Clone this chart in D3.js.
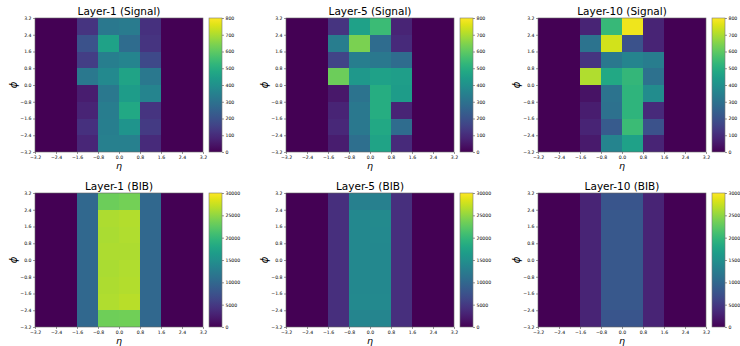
<!DOCTYPE html>
<html>
<head>
<meta charset="utf-8">
<script src="https://cdn.jsdelivr.net/npm/d3@7"></script>
<style>
  body { margin: 0; background: #fff; }
  text { font-family: "DejaVu Sans", sans-serif; fill: #000; }
  .tick text { font-size: 4.6px; }
</style>
</head>
<body>
<div id="chart"></div>
<script>
// bin edges (eta on x, phi on y)
var etaEdges = [-3.2, -2.4, -1.6, -0.8, 0.0, 0.8, 1.6, 2.4, 3.2];
var phiEdges = [-3.2, -2.4, -1.6, -0.8, 0.0, 0.8, 1.6, 2.4, 3.2];
var axisTicks = [-3.2, -2.4, -1.6, -0.8, 0.0, 0.8, 1.6, 2.4, 3.2];
var signalTicks = [0, 100, 200, 300, 400, 500, 600, 700, 800];
var bibTicks = [0, 5000, 10000, 15000, 20000, 25000, 30000];

// hit counts, rows listed from top (phi 2.4..3.2) down to bottom (phi -3.2..-2.4)
var sigL1 = [
  [0, 0, 120, 320, 330, 110, 0, 0],
  [0, 0, 200, 460, 280, 120, 0, 0],
  [0, 0, 145, 340, 360, 175, 0, 0],
  [0, 0, 320, 375, 465, 320, 0, 0],
  [0, 0, 65, 320, 440, 360, 0, 0],
  [0, 0, 80, 335, 480, 120, 0, 0],
  [0, 0, 110, 340, 415, 135, 0, 0],
  [0, 0, 85, 345, 345, 95, 0, 0]
];
var sigL5 = [
  [0, 0, 120, 455, 545, 80, 0, 0],
  [0, 0, 335, 640, 280, 95, 0, 0],
  [0, 0, 160, 340, 320, 280, 0, 0],
  [0, 0, 620, 425, 455, 445, 0, 0],
  [0, 0, 50, 305, 495, 440, 0, 0],
  [0, 0, 80, 320, 495, 80, 0, 0],
  [0, 0, 90, 320, 480, 280, 0, 0],
  [0, 0, 65, 290, 465, 95, 0, 0]
];
var sigL10 = [
  [0, 0, 80, 535, 780, 80, 0, 0],
  [0, 0, 305, 745, 200, 80, 0, 0],
  [0, 0, 120, 320, 360, 335, 0, 0],
  [0, 0, 705, 480, 530, 295, 0, 0],
  [0, 0, 40, 305, 520, 385, 0, 0],
  [0, 0, 65, 295, 520, 95, 0, 0],
  [0, 0, 80, 225, 545, 200, 0, 0],
  [0, 0, 55, 360, 455, 80, 0, 0]
];
var bibL1 = [
  [0, 0, 10000, 23300, 23600, 10000, 0, 0],
  [0, 0, 10000, 26300, 26500, 10000, 0, 0],
  [0, 0, 10000, 26200, 26400, 10000, 0, 0],
  [0, 0, 10000, 26300, 26300, 10000, 0, 0],
  [0, 0, 10000, 26200, 26400, 10000, 0, 0],
  [0, 0, 10000, 26300, 26500, 10000, 0, 0],
  [0, 0, 10000, 26400, 26800, 10000, 0, 0],
  [0, 0, 10000, 23400, 23500, 10000, 0, 0]
];
var bibL5 = [
  [0, 0, 4000, 13000, 13000, 4000, 0, 0],
  [0, 0, 4100, 14000, 14200, 4100, 0, 0],
  [0, 0, 4100, 14000, 14100, 4100, 0, 0],
  [0, 0, 4100, 14000, 14000, 4100, 0, 0],
  [0, 0, 4100, 14000, 14000, 4100, 0, 0],
  [0, 0, 4100, 14000, 14000, 4100, 0, 0],
  [0, 0, 4100, 14100, 14100, 4100, 0, 0],
  [0, 0, 4000, 13600, 13600, 4000, 0, 0]
];
var bibL10 = [
  [0, 0, 3000, 7900, 7900, 3000, 0, 0],
  [0, 0, 3000, 8100, 8200, 3000, 0, 0],
  [0, 0, 3000, 8100, 8100, 3000, 0, 0],
  [0, 0, 3000, 8100, 8100, 3000, 0, 0],
  [0, 0, 3000, 8100, 8100, 3000, 0, 0],
  [0, 0, 3000, 8100, 8100, 3000, 0, 0],
  [0, 0, 3000, 8100, 8200, 3000, 0, 0],
  [0, 0, 3000, 7900, 7900, 3000, 0, 0]
];

var panels = [
  {title: "Layer-1 (Signal)", grid: sigL1, ticks: signalTicks, left: 35, top: 18},
  {title: "Layer-5 (Signal)", grid: sigL5, ticks: signalTicks, left: 286, top: 18},
  {title: "Layer-10 (Signal)", grid: sigL10, ticks: signalTicks, left: 538, top: 18},
  {title: "Layer-1 (BIB)", grid: bibL1, ticks: bibTicks, left: 35, top: 193},
  {title: "Layer-5 (BIB)", grid: bibL5, ticks: bibTicks, left: 286, top: 193},
  {title: "Layer-10 (BIB)", grid: bibL10, ticks: bibTicks, left: 538, top: 193}
];

var width = 168, height = 134;
var cbGap = 6, cbWidth = 13;

var svg = d3.select("#chart").append("svg")
  .attr("width", 740)
  .attr("height", 346);

// vertical viridis gradient shared by every colorbar
var grad = svg.append("defs").append("linearGradient")
  .attr("id", "viridis")
  .attr("x1", "0").attr("y1", "1").attr("x2", "0").attr("y2", "0");
d3.range(0, 1.0001, 0.05).forEach(function(t) {
  grad.append("stop")
    .attr("offset", (t * 100) + "%")
    .attr("stop-color", d3.interpolateViridis(t));
});

var fmt = d3.format(".1f");

panels.forEach(function(p) {
  var g = svg.append("g").attr("transform", "translate(" + p.left + "," + p.top + ")");

  var x = d3.scaleLinear().domain([etaEdges[0], etaEdges[etaEdges.length - 1]]).range([0, width]);
  var y = d3.scaleLinear().domain([phiEdges[0], phiEdges[phiEdges.length - 1]]).range([height, 0]);
  var vmax = p.ticks[p.ticks.length - 1];
  var color = d3.scaleSequential(d3.interpolateViridis).domain([0, vmax]);

  // flatten grid into cells
  var cells = [];
  var n = p.grid.length;
  p.grid.forEach(function(row, r) {
    var j = n - 1 - r; // row index from bottom
    row.forEach(function(v, i) {
      cells.push({x0: etaEdges[i], x1: etaEdges[i + 1], y0: phiEdges[j], y1: phiEdges[j + 1], v: v});
    });
  });

  g.selectAll("rect.cell")
    .data(cells)
    .enter()
    .append("rect")
    .attr("class", "cell")
    .attr("x", function(d) { return x(d.x0); })
    .attr("y", function(d) { return y(d.y1); })
    .attr("width", function(d) { return x(d.x1) - x(d.x0); })
    .attr("height", function(d) { return y(d.y0) - y(d.y1); })
    .attr("fill", function(d) { return color(d.v); })
    .attr("shape-rendering", "crispEdges");

  // frame
  g.append("rect")
    .attr("width", width).attr("height", height)
    .attr("fill", "none").attr("stroke", "#666").attr("stroke-width", 0.6);

  var xAxis = g.append("g")
    .attr("transform", "translate(0," + height + ")")
    .call(d3.axisBottom(x).tickValues(axisTicks).tickFormat(fmt).tickSize(2).tickPadding(1.5));
  var yAxis = g.append("g")
    .call(d3.axisLeft(y).tickValues(axisTicks).tickFormat(fmt).tickSize(2).tickPadding(1.5));
  [xAxis, yAxis].forEach(function(a) {
    a.select(".domain").remove();
    a.selectAll("line").attr("stroke", "#333").attr("stroke-width", 0.5);
  });

  g.append("text")
    .attr("x", width / 2).attr("y", -3)
    .attr("text-anchor", "middle")
    .style("font-size", "10.5px")
    .text(p.title);

  g.append("text")
    .attr("x", width / 2).attr("y", height + 17)
    .attr("text-anchor", "middle")
    .style("font-size", "9.5px").style("font-style", "italic")
    .text("η");

  g.append("text")
    .attr("transform", "translate(-22," + (height / 2) + ") rotate(-90)")
    .attr("text-anchor", "middle")
    .attr("dy", "0.35em")
    .style("font-size", "10px").style("font-style", "italic")
    .text("ϕ");

  // colorbar
  var cb = g.append("g").attr("transform", "translate(" + (width + cbGap) + ",0)");
  var cy = d3.scaleLinear().domain([0, vmax]).range([height, 0]);
  cb.append("rect")
    .attr("width", cbWidth).attr("height", height)
    .attr("fill", "url(#viridis)")
    .attr("stroke", "#777").attr("stroke-width", 0.6);
  var cAxis = cb.append("g")
    .attr("transform", "translate(" + cbWidth + ",0)")
    .call(d3.axisRight(cy).tickValues(p.ticks).tickFormat(d3.format("d")).tickSize(2).tickPadding(1.5));
  cAxis.select(".domain").remove();
  cAxis.selectAll("line").attr("stroke", "#333").attr("stroke-width", 0.5);
});
</script>
</body>
</html>
